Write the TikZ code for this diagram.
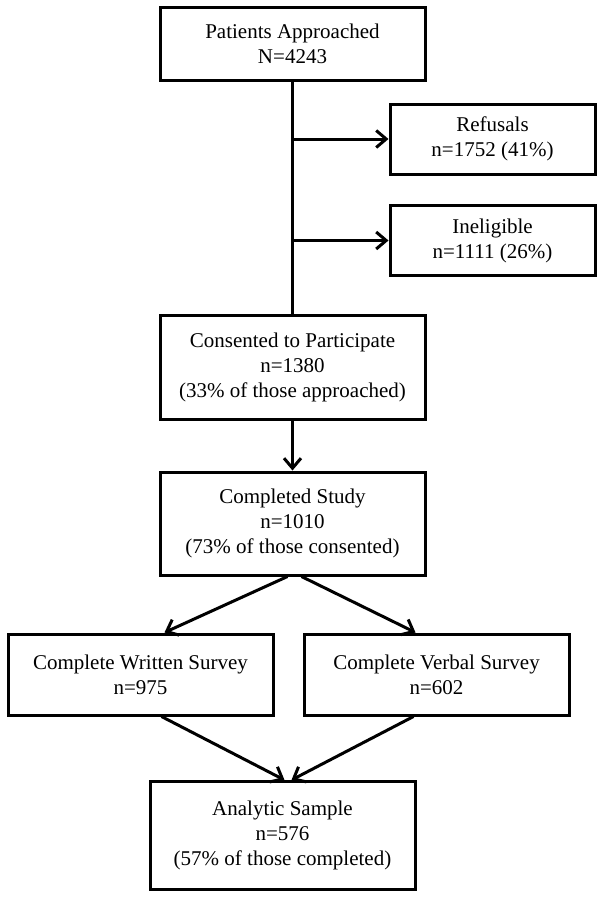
\documentclass[tikz,border=0pt]{standalone}
\usepackage{fontspec}
\setmainfont{Liberation Serif}
\usetikzlibrary{arrows.meta}

\begin{document}
\begin{tikzpicture}[x=1pt,y=-1pt,
  >={Straight Barb[length=10pt,width=17pt]},
  box/.style={draw,line width=3pt,align=center,inner sep=0pt,
    font=\fontsize{21}{25}\selectfont,minimum width=265pt},
  sidebox/.style={box,minimum width=205pt,minimum height=70pt},
  link/.style={line width=3pt}]
\useasboundingbox (0,0) rectangle (604,899);

\node[box,minimum height=72pt] (approached) at (292.5,44) {Patients Approached\\N=4243};
\node[sidebox] (refusals) at (492.5,139) {Refusals\\n=1752 (41\%)};
\node[sidebox] (ineligible) at (492.5,240.5) {Ineligible\\n=1111 (26\%)};
\node[box,minimum height=104pt] (consented) at (292.5,367)
  {Consented to Participate\\n=1380\\(33\% of those approached)};
\node[box,minimum height=103pt] (completed) at (292.5,523.5)
  {Completed Study\\n=1010\\(73\% of those consented)};
\node[box,minimum height=81pt] (written) at (140.5,674.5) {Complete Written Survey\\n=975};
\node[box,minimum height=81pt] (verbal) at (436.5,674.5) {Complete Verbal Survey\\n=602};
\node[box,minimum height=108pt] (analytic) at (282.5,835.5)
  {Analytic Sample\\n=576\\(57\% of those completed)};

\coordinate (split1) at (approached.south |- refusals.west);
\coordinate (split2) at (approached.south |- ineligible.west);

\draw[link] (approached.south) -- (approached.south |- consented.north);
\draw[link,->] (split1) -- (refusals.west);
\draw[link,->] (split2) -- (ineligible.west);
\draw[link,->] (consented.south) -- (completed.north);
\draw[link,->] ([xshift=-5pt]completed.south) -- ([xshift=24pt]written.north);
\draw[link,->] ([xshift=9pt]completed.south) -- ([xshift=-21pt]verbal.north);
\draw[link,->] ([xshift=21pt]written.south) -- ([xshift=2pt]analytic.north);
\draw[link,->] ([xshift=-23pt]verbal.south) -- ([xshift=9pt]analytic.north);

\end{tikzpicture}
\end{document}
